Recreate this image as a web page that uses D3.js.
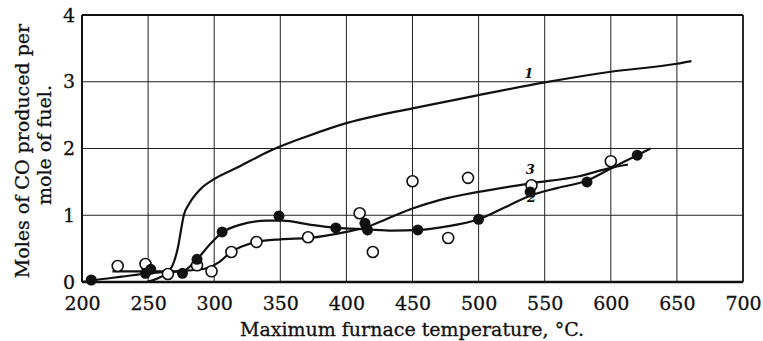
<!DOCTYPE html>
<html>
<head>
<meta charset="utf-8">
<script src="https://cdn.jsdelivr.net/npm/d3@7/dist/d3.min.js"></script>
<style>
  body { margin: 0; background: #fff; }
  svg { display: block; }
  text { font-family: "DejaVu Serif", "Liberation Serif", serif; fill: #111; }
</style>
</head>
<body>
<svg id="chart" width="763" height="341"></svg>
<script>
// tick labels
var xTicks = [200, 250, 300, 350, 400, 450, 500, 550, 600, 650, 700];
var yTicks = [0, 1, 2, 3, 4];

// curve 1 (no points)
var curve1 = [[249, 0], [259, 0.07], [265, 0.15], [268.5, 0.25], [272.6, 0.52], [274.9, 0.78],
  [277, 1.0], [281, 1.17], [289, 1.38], [299, 1.53], [319, 1.73], [344, 1.98],
  [370, 2.18], [400, 2.38], [425, 2.5], [450, 2.6], [500, 2.8], [550, 2.99], [600, 3.15],
  [650, 3.27], [661, 3.31]];

// curve 2 (filled points)
var curve2 = [[200, 0], [210, 0.03], [230, 0.08], [250, 0.13], [265, 0.15], [276, 0.16],
  [287, 0.34], [297, 0.57], [306, 0.74], [320, 0.86], [340, 0.92], [352, 0.92], [372, 0.86],
  [393, 0.81], [415, 0.79], [435, 0.77], [455, 0.78], [475, 0.83], [500, 0.94], [520, 1.12],
  [540, 1.3], [560, 1.41], [582, 1.52], [600, 1.7], [620, 1.9], [630, 2.0]];
var filledX = [207, 248, 252, 276, 287, 306, 349, 392, 414, 416, 454, 500, 539, 582, 620];
var filledY = [0.03, 0.13, 0.19, 0.13, 0.34, 0.75, 0.99, 0.81, 0.88, 0.78, 0.78, 0.94, 1.35, 1.5, 1.9];

// curve 3 (open points)
var curve3 = [[223, 0.16], [250, 0.16], [270, 0.16], [285, 0.18], [295, 0.21], [304, 0.3],
  [312, 0.44], [322, 0.54], [332, 0.6], [350, 0.64], [372, 0.66], [400, 0.75], [415, 0.82],
  [430, 0.94], [450, 1.1], [471, 1.23], [500, 1.35], [540, 1.48], [575, 1.58], [600, 1.71],
  [613, 1.76]];
var openX = [227, 248, 265, 287, 298, 313, 332, 371, 410, 420, 450, 477, 492, 540, 600];
var openY = [0.24, 0.27, 0.12, 0.25, 0.16, 0.45, 0.6, 0.67, 1.03, 0.45, 1.51, 0.66, 1.56, 1.45, 1.81];

// curve labels
var curveNames = ["1", "2", "3"];
var nameX = [538, 540, 539];
var nameY = [3.05, 1.2, 1.62];

var svg = d3.select("#chart");
var mLeft = 82, mTop = 15, mRight = 743, mBottom = 282;

var x = d3.scaleLinear().domain([200, 700]).range([mLeft, mRight]);
var y = d3.scaleLinear().domain([0, 4]).range([mBottom, mTop]);

// grid
svg.append("g").selectAll("line").data(xTicks).join("line")
  .attr("x1", d => x(d)).attr("x2", d => x(d))
  .attr("y1", mTop).attr("y2", mBottom)
  .attr("stroke", "#222").attr("stroke-width", 1);
svg.append("g").selectAll("line").data(yTicks).join("line")
  .attr("x1", mLeft).attr("x2", mRight)
  .attr("y1", d => y(d)).attr("y2", d => y(d))
  .attr("stroke", "#222").attr("stroke-width", 1.2);

// frame
svg.append("line").attr("x1", mLeft).attr("x2", mRight).attr("y1", mTop).attr("y2", mTop)
  .attr("stroke", "#111").attr("stroke-width", 2);
svg.append("line").attr("x1", mLeft).attr("x2", mRight).attr("y1", mBottom).attr("y2", mBottom)
  .attr("stroke", "#111").attr("stroke-width", 2.6);
svg.append("line").attr("x1", mLeft).attr("x2", mLeft).attr("y1", mTop).attr("y2", mBottom)
  .attr("stroke", "#111").attr("stroke-width", 2);
svg.append("line").attr("x1", mRight).attr("x2", mRight).attr("y1", mTop).attr("y2", mBottom)
  .attr("stroke", "#111").attr("stroke-width", 1.6);

// axes (labels only)
var xAxis = svg.append("g").attr("transform", "translate(0," + mBottom + ")")
  .call(d3.axisBottom(x).tickValues(xTicks).tickSize(0).tickPadding(15));
var yAxis = svg.append("g").attr("transform", "translate(" + mLeft + ",0)")
  .call(d3.axisLeft(y).tickValues(yTicks).tickFormat(d3.format("d")).tickSize(0).tickPadding(7));
[xAxis, yAxis].forEach(function(a) {
  a.select(".domain").remove();
  a.selectAll("text").attr("font-family", "DejaVu Serif").attr("font-size", 19)
    .attr("fill", "#111").attr("stroke", "#111").attr("stroke-width", 0.3);
});

// curves
var line = d3.line().x(d => x(d[0])).y(d => y(d[1])).curve(d3.curveMonotoneX);
[curve1, curve2, curve3].forEach(function(c) {
  svg.append("path").attr("d", line(c))
    .attr("fill", "none").attr("stroke", "#111").attr("stroke-width", 2.2);
});

// points
svg.append("g").selectAll("circle").data(openX).join("circle")
  .attr("cx", d => x(d)).attr("cy", (d, i) => y(openY[i])).attr("r", 5.5)
  .attr("fill", "#fff").attr("stroke", "#111").attr("stroke-width", 1.6);
svg.append("g").selectAll("circle").data(filledX).join("circle")
  .attr("cx", d => x(d)).attr("cy", (d, i) => y(filledY[i])).attr("r", 5.5)
  .attr("fill", "#111");

// curve labels
svg.append("g").selectAll("text").data(curveNames).join("text")
  .attr("x", (d, i) => x(nameX[i])).attr("y", (d, i) => y(nameY[i]))
  .attr("text-anchor", "middle").attr("font-size", 13).attr("font-style", "italic")
  .attr("font-weight", "bold").text(d => d);

// titles
var titles = svg.append("g").attr("font-size", 19).attr("stroke", "#111").attr("stroke-width", 0.3);
titles.append("text").attr("x", 412).attr("y", 336)
  .attr("text-anchor", "middle")
  .text("Maximum furnace temperature, \u00B0C.");
titles.append("text").attr("transform", "translate(29,151) rotate(-90)")
  .attr("text-anchor", "middle")
  .text("Moles of  CO produced per");
titles.append("text").attr("transform", "translate(51,145) rotate(-90)")
  .attr("text-anchor", "middle")
  .text("mole of fuel.");
</script>
</body>
</html>
